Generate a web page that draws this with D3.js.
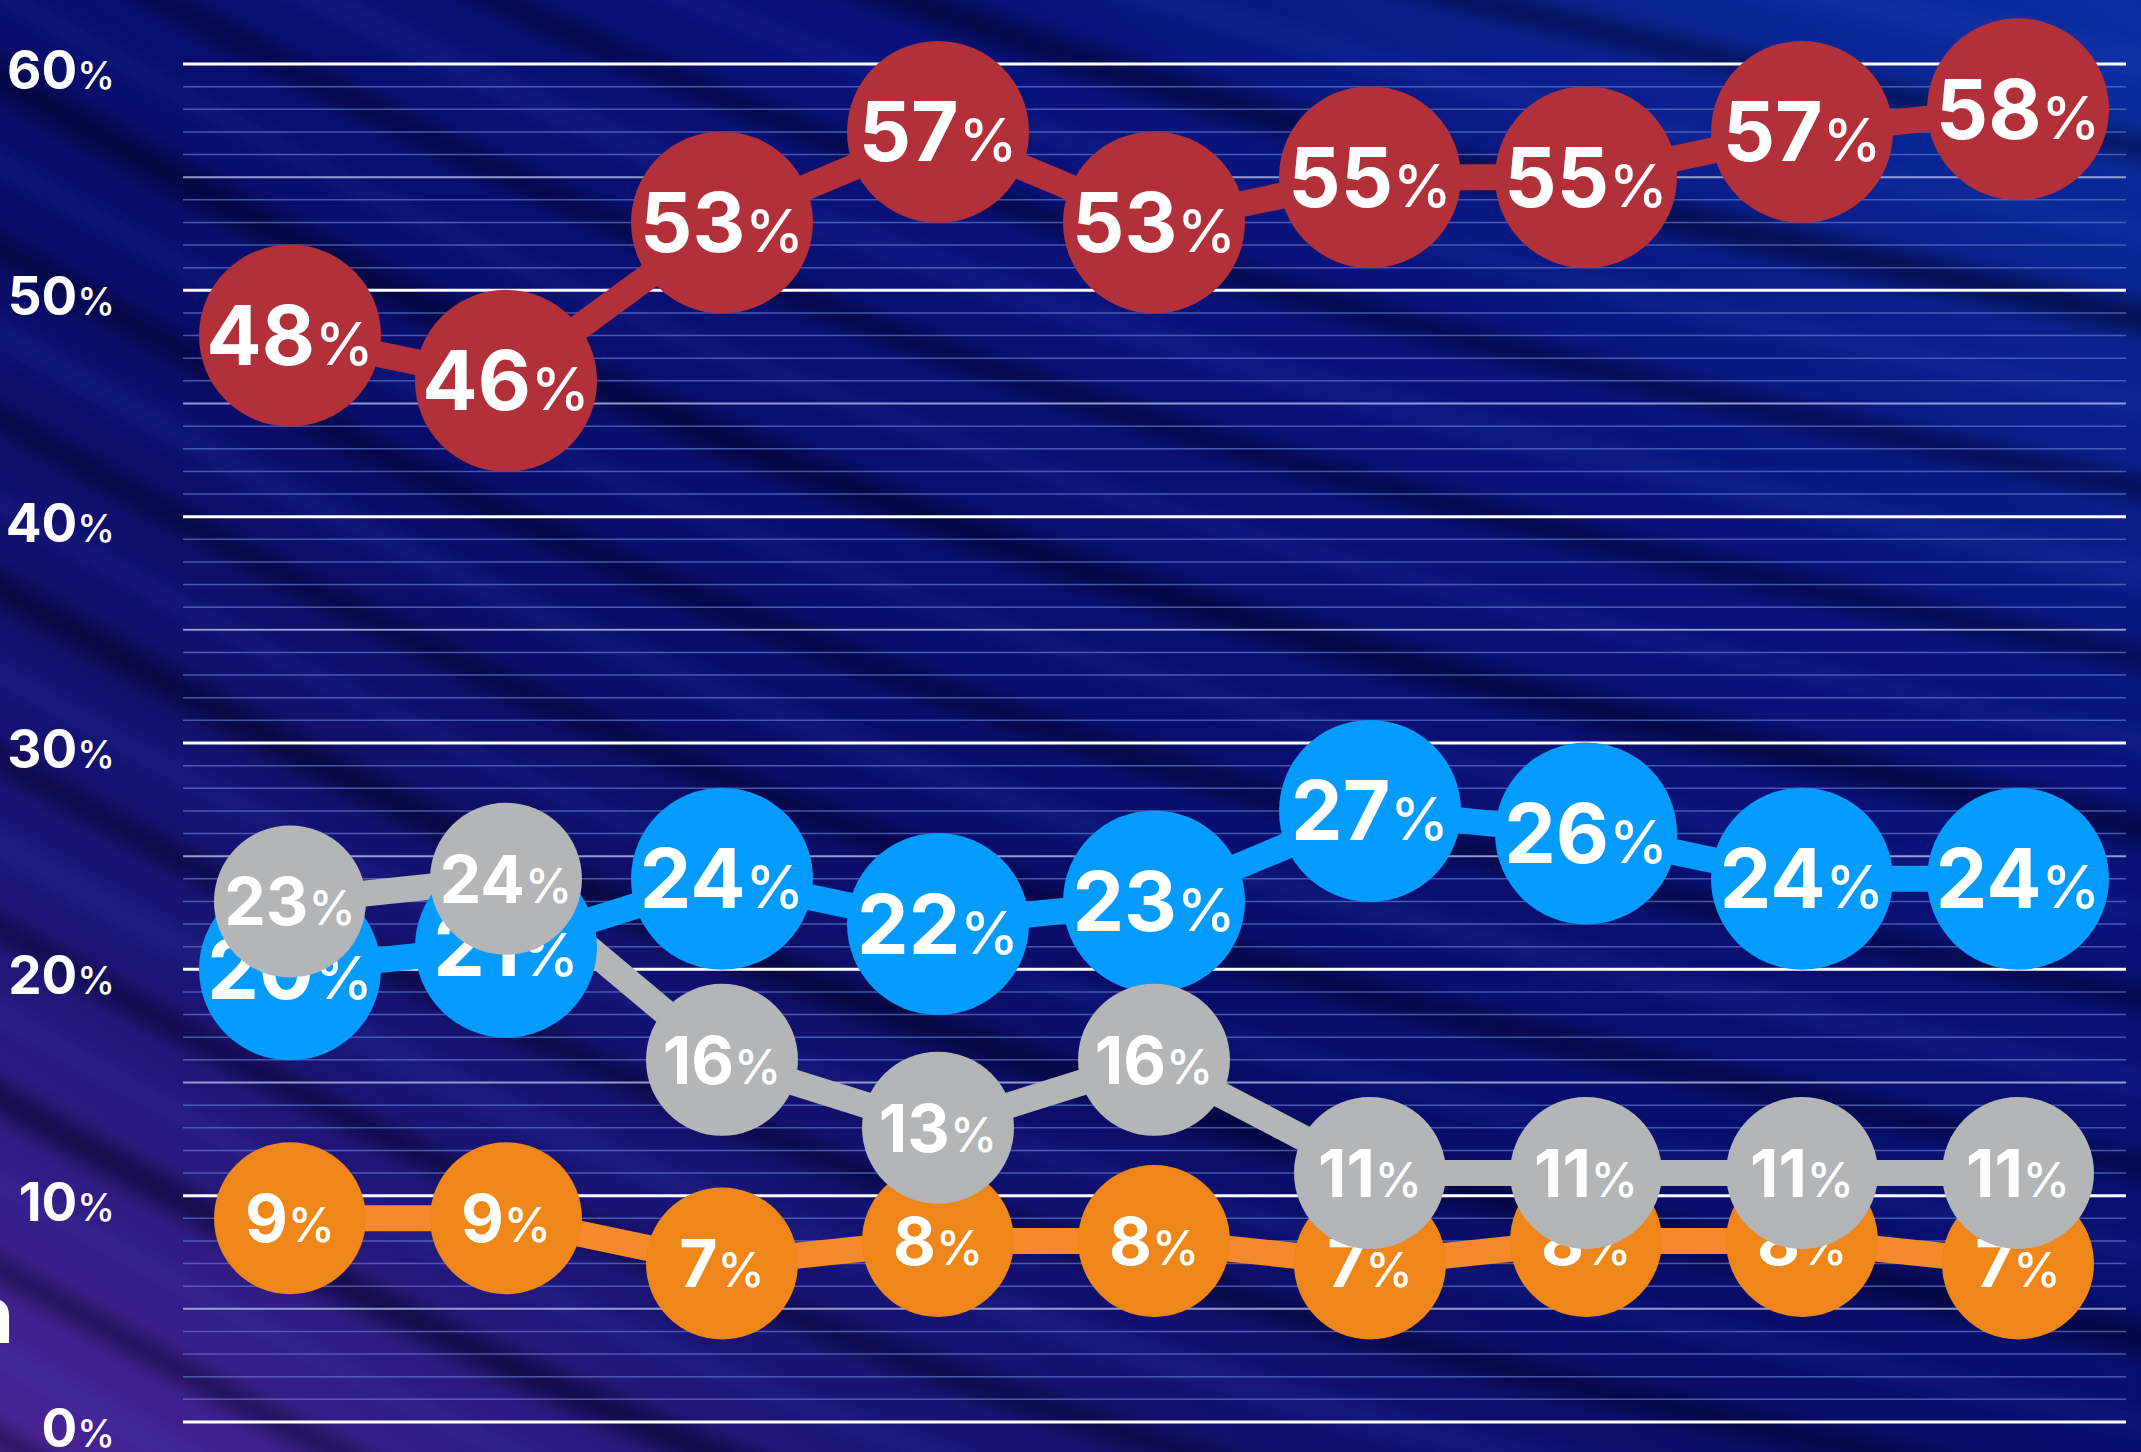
<!DOCTYPE html>
<html>
<head>
<meta charset="utf-8">
<script src="https://cdn.jsdelivr.net/npm/d3@7"></script>
<style>
  html, body { margin: 0; padding: 0; background: #0a0f6a; overflow: hidden; }
  svg { display: block; }
</style>
</head>
<body>
<svg id="chart" width="2141" height="1452"></svg>
<script>
// ---------------- DATA ----------------
const categories = ["1", "2", "3", "4", "5", "6", "7", "8", "9"];
const redValues    = [48, 46, 53, 57, 53, 55, 55, 57, 58];
const blueValues   = [20, 21, 24, 22, 23, 27, 26, 24, 24];
const grayValues   = [23, 24, 16, 13, 16, 11, 11, 11, 11];
const orangeValues = [9, 9, 7, 8, 8, 7, 8, 8, 7];
const yTickValues  = [0, 10, 20, 30, 40, 50, 60];
const yTickLabels  = ["0", "10", "20", "30", "40", "50", "60"];

// ---------------- SETUP ----------------
const W = 2141, H = 1452;
const svg = d3.select("#chart");
const defs = svg.append("defs");

// background gradient
const bg = defs.append("linearGradient").attr("id", "bgGrad")
  .attr("x1", "100%").attr("y1", "0%").attr("x2", "0%").attr("y2", "100%");
bg.append("stop").attr("offset", "0%").attr("stop-color", "#0a2ea2");
bg.append("stop").attr("offset", "28%").attr("stop-color", "#08127a");
bg.append("stop").attr("offset", "58%").attr("stop-color", "#090d68");
bg.append("stop").attr("offset", "80%").attr("stop-color", "#1b1474");
bg.append("stop").attr("offset", "100%").attr("stop-color", "#4c2598");
svg.append("rect").attr("width", W).attr("height", H).attr("fill", "url(#bgGrad)");

// soft diagonal wave bands (decoration)
defs.append("filter").attr("id", "blur").attr("x", "-20%").attr("y", "-20%").attr("width", "140%").attr("height", "140%")
  .append("feGaussianBlur").attr("stdDeviation", 9);
const waves = svg.append("g").attr("filter", "url(#blur)");
const waveLine = d3.line().curve(d3.curveBasis);
for (let i = -16; i < 22; i++) {
  const off = i * 85;
  const pts = [[-300, off - 100], [300, off + 260], [900, off + 520], [1500, off + 700], [2500, off + 900]];
  waves.append("path").attr("d", waveLine(pts))
    .attr("fill", "none")
    .attr("stroke", i % 2 === 0 ? "rgba(0,0,25,0.5)" : "rgba(50,80,210,0.12)")
    .attr("stroke-width", i % 3 === 0 ? 30 : 20);
}

// ---------------- SCALES ----------------
const x = d3.scalePoint().domain(categories).range([290, 2018]);
const y = d3.scaleLinear().domain([0, 60]).range([1422, 64]);
const gridX0 = 183, gridX1 = 2126;

// gridlines: every 1 %
const gridVals = d3.range(0, 61, 1);
const grid = svg.append("g");
grid.selectAll("line").data(gridVals).join("line")
  .attr("x1", gridX0).attr("x2", gridX1)
  .attr("y1", d => y(d)).attr("y2", d => y(d))
  .attr("stroke", d => d % 10 === 0 ? "#ffffff" : (d % 5 === 0 ? "rgba(170,180,225,0.85)" : "rgba(95,120,205,0.7)"))
  .attr("stroke-width", d => d % 10 === 0 ? 3 : (d % 5 === 0 ? 2 : 1.5));

// y-axis labels
const yLab = svg.append("g");
yTickValues.forEach((v, i) => {
  const t = yLab.append("text")
    .attr("x", 115).attr("y", y(v) + 25)
    .attr("text-anchor", "end")
    .attr("fill", "#ffffff")
    .style("font-family", "Inter, 'DejaVu Sans', sans-serif");
  t.append("tspan").text(yTickLabels[i]).style("font-size", "53px").style("font-weight", 700);
  t.append("tspan").text("%").style("font-size", "38px").style("font-weight", 500);
});

// cut-off text at left edge
svg.append("text").attr("x", 14).attr("y", 1343).attr("text-anchor", "end")
  .attr("fill", "#ffffff").style("font-family", "Inter, sans-serif")
  .style("font-size", "80px").style("font-weight", 700).text("n");

// ---------------- SERIES ----------------
const series = [
  { key: "red",    values: redValues,    color: "#b2303a", lineColor: "#b2303a", r: 91, fs: 82 },
  { key: "orange", values: orangeValues, color: "#ee8619", lineColor: "#f48a2c", r: 76, fs: 66 },
  { key: "blue",   values: blueValues,   color: "#039cfc", lineColor: "#039cfc", r: 91, fs: 82 },
  { key: "gray",   values: grayValues,   color: "#b4b5b7", lineColor: "#b4b5b7", r: 76, fs: 66 }
];

const line = d3.line().x((d, i) => x(categories[i])).y(d => y(d));

// lines first
const linesG = svg.append("g");
series.forEach(s => {
  linesG.append("path").datum(s.values)
    .attr("d", line)
    .attr("fill", "none")
    .attr("stroke", s.lineColor)
    .attr("stroke-width", 26)
    .attr("stroke-linejoin", "round");
});

// circles + labels per series
series.forEach(s => {
  const g = svg.append("g");
  s.values.forEach((v, i) => {
    const cx = x(categories[i]), cy = y(v);
    g.append("circle").attr("cx", cx).attr("cy", cy).attr("r", s.r).attr("fill", s.color);
    const t = g.append("text")
      .attr("x", cx).attr("y", cy + s.fs * 0.36)
      .attr("text-anchor", "middle")
      .attr("fill", "#ffffff")
      .style("font-family", "Inter, 'DejaVu Sans', sans-serif");
    t.append("tspan").text(v).style("font-size", s.fs + "px").style("font-weight", 700);
    t.append("tspan").text("%").style("font-size", (s.fs * 0.72) + "px").style("font-weight", 500);
  });
});
</script>
</body>
</html>
